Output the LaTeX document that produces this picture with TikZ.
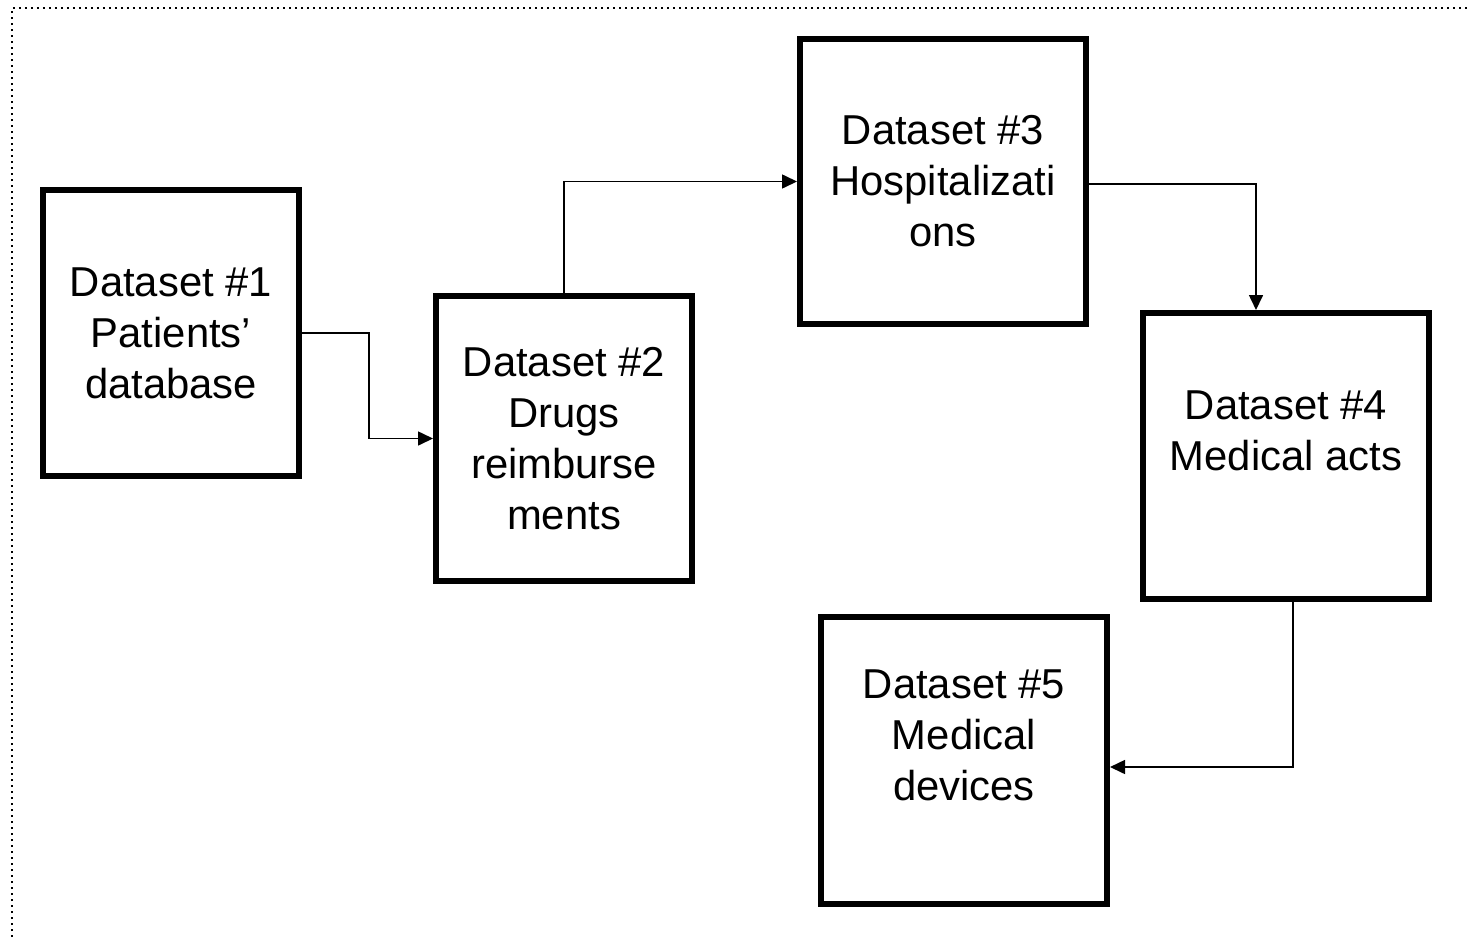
\documentclass[tikz,border=0pt]{standalone}
\usepackage{fontspec}
\setmainfont{Liberation Sans}
\usepackage{tikz}
\usetikzlibrary{arrows.meta}
\tikzset{every picture/.style={line width=0.75pt}}
\tikzset{
  dsbox/.style={draw, line width=6pt, align=center, inner sep=0pt,
    font=\fontsize{41.8}{51}\selectfont},
  flow/.style={line width=1.6pt, -{Triangle[length=15pt,width=14pt]}}
}

\begin{document}
\begin{tikzpicture}[x=1pt,y=-1pt]
\useasboundingbox (0,0) rectangle (1469,937);

%Straight Lines: frame
\draw [line width=2pt, dash pattern={on 2pt off 4pt}] (12,937) -- (12,8) -- (1469,8) ;

%Shape: Rectangle
\node [dsbox, minimum width=256pt, minimum height=286pt] (ds1) at (171,333) {Dataset \#1\\Patients'\\database};
%Shape: Rectangle
\node [dsbox, minimum width=256pt, minimum height=285pt] (ds2) at (564,438.5) {Dataset \#2\\Drugs\\reimburse\\ments};
%Shape: Rectangle
\node [dsbox, minimum width=286pt, minimum height=285pt] (ds3) at (943,181.5) {Dataset \#3\\Hospitalizati\\ons};
%Shape: Rectangle
\node [dsbox, minimum width=286pt, minimum height=286pt] (ds4) at (1286,456) {Dataset \#4\\Medical acts\\\mbox{}};
%Shape: Rectangle
\node [dsbox, minimum width=286pt, minimum height=287pt] (ds5) at (964,760.5) {Dataset \#5\\Medical\\devices\\\mbox{}};

%Straight Lines
\draw [flow] (ds1.east) -- ++(67,0) |- (ds2.west) ;
%Straight Lines
\draw [flow] (ds2.north) |- (ds3.west) ;
%Straight Lines
\draw [flow] ([yshift=-2.5pt]ds3.east) -| ([xshift=-30pt]ds4.north) ;
%Straight Lines
\draw [flow] ([xshift=7pt]ds4.south) |- ([yshift=-6.5pt]ds5.east) ;
\end{tikzpicture}
\end{document}
